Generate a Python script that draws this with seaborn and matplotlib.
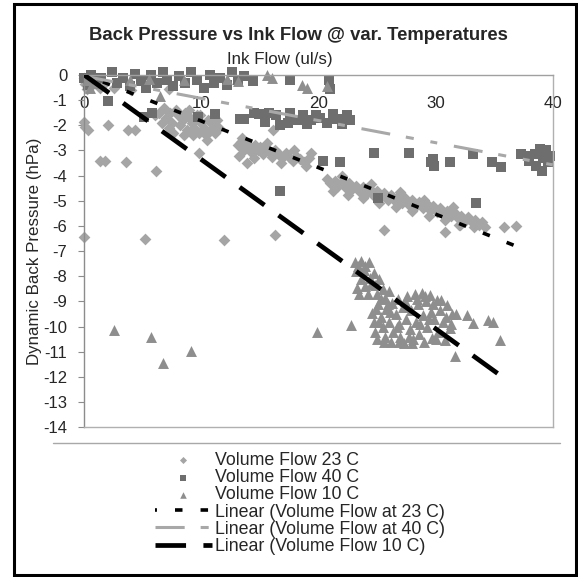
import seaborn as sns
import matplotlib.pyplot as plt
from matplotlib.lines import Line2D
from matplotlib.patches import Rectangle
import numpy as np

# Volume Flow 23 C (diamonds)
x_23c = [0.0, 0.1, 0.2, 0.4, 0.6, 0.9, 1.3, 1.7, 2.5, 4.0, 7.2,
         0.0, 0.1, 0.3, 2.0, 3.7, 4.3, 1.3, 1.8, 3.6, 6.1, 9.8,
         0.0, 5.2, 11.9, 16.3, 25.6, 30.8, 35.8, 36.9, 13.9, 16.1, 32.1,
         6.0, 6.4, 6.8, 7.0, 7.2, 7.3, 7.5, 7.8, 8.0, 8.2, 8.4, 8.5, 8.6, 8.8,
         9.0, 9.2, 9.4, 9.6, 9.8, 10.0, 10.2, 10.4, 10.6, 10.8, 11.0, 11.2, 11.5,
         6.6, 7.6, 8.9, 9.9, 10.5, 11.3, 9.3,
         13.1, 13.2, 13.4, 13.6, 13.9, 14.1, 14.3, 14.6, 14.8, 15.0, 15.3, 15.5,
         15.8, 16.0, 16.3, 16.6, 16.9, 17.2, 17.5, 17.8, 18.1, 18.4, 18.8, 19.2,
         13.5, 14.5, 15.6, 16.8, 17.9, 18.9, 19.4,
         20.7, 21.0, 21.4, 21.7, 22.0, 22.3, 22.6, 22.9, 23.2, 23.5, 23.8, 24.1,
         24.4, 24.7, 25.0, 25.3, 25.6, 25.9, 26.2, 26.5, 26.8, 27.1, 27.4, 27.7,
         28.0, 28.3, 28.6, 28.9, 29.2, 29.5, 29.8, 30.1, 30.4, 30.7, 31.0, 31.3,
         31.6, 31.9, 32.2, 32.5, 32.8, 33.1, 33.4, 33.7, 34.0, 34.2,
         21.2, 22.5, 23.8, 25.2, 26.6, 28.0, 29.4, 30.8, 32.0, 33.3,
         22.0, 24.5, 27.0, 29.0, 31.5]
y_23c = [-0.1, -0.35, -0.55, -0.2, -0.45, -0.3, -0.5, -0.35, -0.5, -0.6, -0.55,
         -1.85, -2.05, -2.2, -2.0, -2.2, -2.2, -3.4, -3.4, -3.45, -3.8, -3.1,
         -6.45, -6.5, -6.55, -6.35, -6.15, -6.25, -6.05, -6.0, -3.5, -2.2, -5.95,
         -1.6, -1.5, -1.3, -1.7, -2.1, -1.5, -1.9, -1.4, -1.6, -2.0, -1.8, -2.4, -1.5, -2.2,
         -1.7, -1.9, -2.1, -1.6, -2.3, -1.9, -2.1, -2.4, -1.8, -2.2, -2.0, -2.3, -2.1,
         -1.9, -2.3, -1.4, -1.6, -2.6, -1.8, -2.4,
         -2.8, -3.2, -2.65, -3.0, -2.75, -2.9, -3.1, -2.8, -3.0, -2.85, -3.15, -2.95,
         -3.05, -3.25, -3.0, -3.15, -3.3, -3.1, -3.25, -3.4, -3.2, -3.35, -3.45, -3.3,
         -2.5, -3.3, -2.7, -3.5, -3.0, -3.6, -3.1,
         -4.15, -4.3, -4.2, -4.4, -4.25, -4.45, -4.3, -4.55, -4.4, -4.6, -4.45, -4.7,
         -4.55, -4.8, -4.6, -4.85, -4.7, -4.95, -4.75, -5.0, -4.85, -5.1, -4.9, -5.15,
         -4.95, -5.2, -5.05, -5.3, -5.1, -5.35, -5.2, -5.45, -5.3, -5.55, -5.4, -5.6,
         -5.45, -5.7, -5.6, -5.8, -5.65, -5.85, -5.75, -5.95, -5.85, -6.05,
         -4.6, -4.75, -4.9, -5.1, -5.25, -5.4, -5.6, -5.75, -5.95, -6.05,
         -4.0, -4.35, -4.65, -4.95, -5.25]

# Volume Flow 40 C (squares)
x_40c = [0.0, 0.3, 0.6, 1.0, 1.4, 2.4, 2.8, 3.3, 3.9, 4.3, 4.8, 5.3, 5.7, 6.2,
         6.7, 7.1, 7.6, 8.1, 8.6, 9.1, 9.6, 10.2, 10.7, 11.1, 11.6, 12.2, 12.6,
         13.1, 13.6, 14.4, 17.6, 20.9, 21.0,
         2.05, 5.1, 5.75, 9.7, 11.2, 13.3, 13.6,
         14.5, 14.9, 15.4, 15.8, 16.4, 16.7, 17.4, 17.6, 18.2, 18.7, 19.0, 19.4,
         19.8, 20.1, 20.7, 21.2, 21.6, 22.0, 22.4, 22.7,
         20.4, 21.8, 24.7, 27.7, 29.6, 29.9, 29.8, 31.2, 33.2, 34.8, 35.6,
         16.7, 25.1, 33.45,
         37.3, 37.9, 38.0, 38.5, 38.6, 38.9, 39.1, 39.2, 39.4, 39.6, 39.8]
y_40c = [-0.1, -0.4, 0.0, -0.3, -0.1, 0.1, -0.3, -0.1, -0.45, 0.05, -0.25, -0.5, 0.0, -0.3,
         0.1, -0.2, -0.45, -0.05, -0.3, 0.1, -0.2, -0.5, 0.0, -0.3, -0.1, -0.4, 0.1,
         -0.2, -0.05, -0.25, -0.2, -0.2, -0.55,
         -1.05, -1.65, -1.5, -1.65, -1.55, -1.75, -1.75,
         -1.5, -1.56, -1.86, -1.5, -1.6, -2.0, -1.92, -1.52, -1.8, -1.6, -1.95, -1.79,
         -1.6, -1.72, -1.9, -1.55, -1.75, -1.95, -1.6, -1.8,
         -3.4, -3.45, -3.1, -3.1, -3.45, -3.6, -3.35, -3.45, -3.15, -3.45, -3.65,
         -4.6, -4.9, -5.1,
         -3.15, -3.2, -3.4, -3.15, -3.6, -2.95, -3.8, -3.3, -3.0, -3.45, -3.2]

# Volume Flow 10 C (triangles)
x_10c = [0.2, 0.5, 0.9, 3.9, 5.5, 6.5, 8.5, 12.2, 13.1, 15.6, 16.0, 18.6, 19.0, 20.7,
         2.55, 5.7, 6.75, 9.15, 19.9, 22.75, 31.65, 35.5, 34.5, 34.9, 33.2, 32.7, 31.7,
         23.1, 23.6, 24.3, 23.2, 23.6, 23.3, 23.5, 23.9, 24.0, 24.2, 24.4, 24.7,
         24.8, 25.0, 25.2, 25.5, 25.7, 26.0,
         24.6, 24.7, 24.8, 25.0, 25.1, 25.3, 25.5, 25.7, 25.8, 26.0, 26.2, 26.3,
         26.4, 26.6, 26.8, 26.9, 27.0, 27.2, 27.3, 27.5, 27.6, 27.8, 27.9, 28.1,
         28.2, 28.3, 28.5, 28.6, 28.8, 28.9, 29.0, 29.2, 29.3, 29.5, 29.6, 29.7,
         29.9, 30.1, 30.2, 30.4, 30.6, 30.8, 31.0, 31.2, 31.4,
         23.4, 24.0, 24.5, 25.3, 25.9, 26.1, 26.7, 27.4, 27.7, 28.4, 28.7, 29.1,
         29.4, 29.8, 30.0, 30.5, 30.9, 31.3, 25.2, 24.9, 25.6, 26.9, 28.0]
y_10c = [-0.2, -0.5, -0.3, -0.2, -0.15, -0.85, -0.2, -0.15, -0.25, 0.0, -0.1, -0.4, -0.5, -0.45,
         -10.15, -10.4, -11.45, -10.95, -10.2, -9.95, -11.15, -10.55, -9.75, -9.8, -9.85, -9.55, -9.5,
         -7.45, -7.4, -7.45, -7.8, -8.1, -8.45, -8.7, -7.75, -8.4, -8.7, -8.05, -7.85,
         -8.35, -8.7, -8.1, -8.5, -8.85, -8.6,
         -9.45, -9.8, -10.2, -10.5, -9.1, -9.6, -10.0, -10.4, -9.3, -9.8, -10.6, -9.05,
         -10.2, -9.5, -8.9, -9.9, -10.4, -9.2, -10.65, -9.7, -8.8, -10.1, -9.35, -10.5,
         -8.7, -9.8, -9.1, -10.3, -8.65, -9.55, -10.6, -9.0, -10.0, -8.75, -9.4, -10.45,
         -9.7, -8.95, -10.2, -9.35, -9.8, -10.55, -9.15, -10.05, -9.5,
         -7.6, -7.6, -8.3, -8.9, -9.1, -9.4, -10.0, -9.0, -10.4, -8.9, -9.9, -8.8,
         -9.7, -9.1, -10.5, -8.95, -9.6, -9.9, -9.8, -9.3, -10.6, -10.6, -10.65]

series_labels = ["Volume Flow 23 C", "Volume Flow 40 C", "Volume Flow 10 C"]

# linear trendlines as shown on the chart
trend_labels = ["Linear (Volume Flow at 23 C)", "Linear (Volume Flow at 40 C)",
                "Linear (Volume Flow 10 C)"]
trend_slope = [-0.185, -0.088, -0.336]
trend_intercept = [0.02, -0.05, 0.0]
trend_xmin = [0.0, 0.0, 0.0]
trend_xmax = [36.9, 40.0, 35.5]

x_ticks = [0, 10, 20, 30, 40]
y_ticks = list(range(-14, 1))

sns.set_style("white")
plt.rcParams["font.family"] = ["Liberation Sans", "DejaVu Sans"]
plt.rcParams["axes.unicode_minus"] = False
plt.rcParams["lines.scale_dashes"] = False

W, H = 578, 577
fig = plt.figure(figsize=(W / 100, H / 100), dpi=100)
ax = fig.add_axes([84.3 / W, 1 - 427.3 / H, (552.7 - 84.3) / W, (427.3 - 75) / H])

marker_styles = [("D", 36, "#a5a5a5"), ("s", 52, "#6e6e6e"), ("^", 62, "#8e8e8e")]
series_xy = [(x_23c, y_23c), (x_40c, y_40c), (x_10c, y_10c)]
for (xs, ys), label, (mk, size, col) in zip(series_xy, series_labels, marker_styles):
    sns.scatterplot(x=xs, y=ys, marker=mk, s=size, color=col, linewidth=0,
                    label=label, ax=ax, zorder=2, clip_on=False)

line_styles = [("black", 2.6, (4, (5.4, 13.0))),
               ("#a8a8a8", 2.2, (0, (21, 11.5, 5.8, 12.2, 5, 12.2))),
               ("black", 3.4, (0, (22, 12.5)))]
for i, (col, lw, ls) in enumerate(line_styles):
    xs = np.array([trend_xmin[i], trend_xmax[i]])
    ys = trend_intercept[i] + trend_slope[i] * xs
    sns.lineplot(x=xs, y=ys, color=col, linewidth=lw, linestyle=ls,
                 label=trend_labels[i], ax=ax, zorder=3)

if ax.get_legend() is not None:
    ax.get_legend().remove()

ax.set_xlim(0, 40)
ax.set_ylim(-14, 0)
ax.set_xticks(x_ticks)
ax.set_yticks(y_ticks)
ax.xaxis.tick_top()
ax.xaxis.set_label_position("top")
ax.tick_params(axis="x", length=0, pad=-26, labelsize=12.2)
ax.tick_params(axis="y", left=True, direction="out", length=4.3, width=0.8,
               color="#8c8c8c", pad=8, labelsize=12)
ax.set_xlabel("Ink Flow (ul/s)", fontsize=12.2, labelpad=8, x=0.418)
ax.set_ylabel("Dynamic Back Pressure (hPa)", fontsize=12.2, labelpad=0.5)

for side, col in [("top", "#a0a0a0"), ("left", "#8c8c8c"),
                  ("right", "#b0b0b0"), ("bottom", "#b0b0b0")]:
    ax.spines[side].set_color(col)
    ax.spines[side].set_linewidth(1.0)

fig.text(298.6 / W, 1 - 35 / H, "Back Pressure vs Ink Flow @ var. Temperatures",
         ha="center", va="center", fontsize=13.3, fontweight="bold")

handles, labels = ax.get_legend_handles_labels()
lookup = dict(zip(labels, handles))
order = series_labels + trend_labels
fig.legend([lookup[k] for k in order], order, loc="upper left",
           bbox_to_anchor=(155 / W, 1 - 452 / H), frameon=False, fontsize=12.8,
           handlelength=3.2, handletextpad=0.15, labelspacing=0.01,
           borderpad=0, borderaxespad=0, markerscale=0.6, scatterpoints=1)

# plot-area bottom border and outer chart frame
fig.add_artist(Line2D([53 / W, 560 / W], [1 - 443 / H, 1 - 443 / H],
                      color="#a8a8a8", lw=1.0))
fig.add_artist(Rectangle((14 / W, 2 / H), 562 / W, 571 / H, transform=fig.transFigure,
                         fill=False, edgecolor="black", lw=2.2))

fig.savefig("out.png", dpi=100)
